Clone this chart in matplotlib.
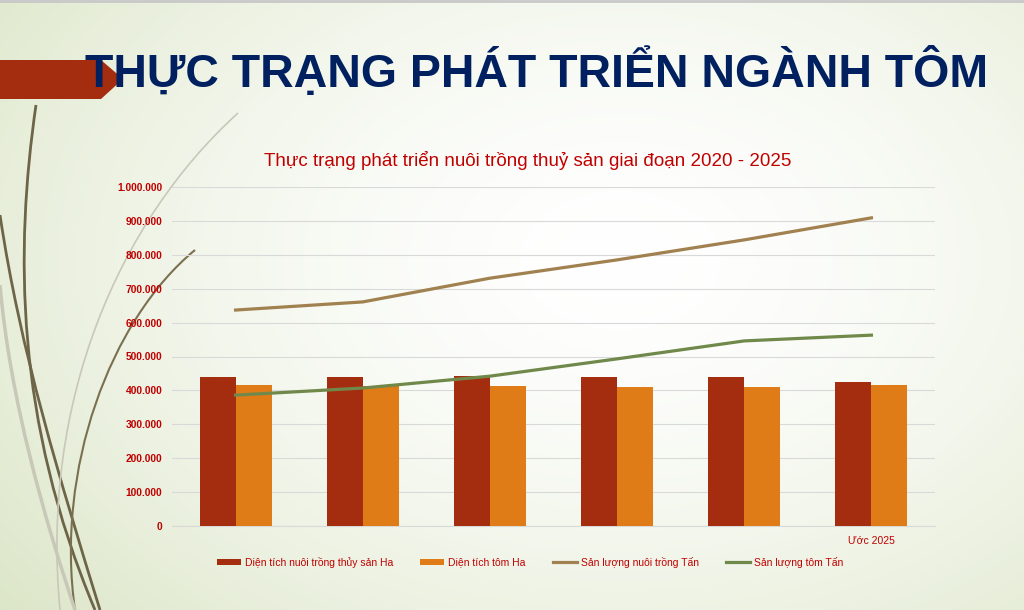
import numpy as np
import matplotlib
matplotlib.use('Agg')
import matplotlib.pyplot as plt
from matplotlib.path import Path
from matplotlib.patches import PathPatch, Polygon

plt.rcParams['font.family'] = ['Liberation Sans', 'DejaVu Sans']

# data
categories = ['2020', '2021', '2022', '2023', '2024', 'Ước 2025']
tick_labels = ['', '', '', '', '', 'Ước 2025']
dien_tich_nuoi = [439000, 439000, 442000, 439000, 439000, 424000]
dien_tich_tom = [415000, 413000, 412000, 409000, 409000, 415000]
san_luong_nuoi = [637000, 661000, 731000, 785000, 844000, 909000]
san_luong_tom = [386000, 407000, 442000, 493000, 546000, 563000]

W, H = 1024, 610
fig = plt.figure(figsize=(W / 100, H / 100), dpi=100)

# slide background
bg = fig.add_axes([0, 0, 1, 1])
bg.set_xlim(0, W)
bg.set_ylim(H, 0)
bg.axis('off')
yy, xx = np.mgrid[0:H, 0:W]
d = np.sqrt(((xx - 620) / 620.0) ** 2 + ((yy - 260) / 430.0) ** 2)
d = np.clip(d, 0, 1.3) / 1.3
white = np.array([1.0, 1.0, 1.0])
green = np.array([0.86, 0.90, 0.78])
img = white + (green - white) * (d[..., None] ** 1.6)
bg.imshow(img, extent=[0, W, H, 0], aspect='auto', zorder=0)
bg.plot([0, W], [1, 1], color='#C8C8C8', lw=2, zorder=1)

# decorative curves on the left
curves = [
    ([(36, 105), (15, 250), (15, 420), (95, 610)], '#6E6548', 2.0),
    ([(0, 215), (20, 350), (60, 480), (100, 610)], '#6E6548', 2.0),
    ([(195, 250), (110, 320), (55, 470), (75, 610)], '#7A7050', 1.5),
    ([(238, 113), (120, 220), (40, 400), (60, 610)], '#C8C8B8', 1.2),
    ([(0, 285), (10, 400), (45, 520), (75, 610)], '#C8C8B8', 2.5),
]
for pts, col, lw in curves:
    p = Path(pts, [Path.MOVETO, Path.CURVE4, Path.CURVE4, Path.CURVE4])
    bg.add_patch(PathPatch(p, fill=False, edgecolor=col, lw=lw, zorder=2))

# red arrow shape
bg.add_patch(Polygon([(0, 60), (101, 60), (123, 79), (101, 99), (0, 99)],
                     closed=True, facecolor='#A52D0F', edgecolor='none', zorder=3))

bg.text(85, 87, 'THỰC TRẠNG PHÁT TRIỂN NGÀNH TÔM', fontsize=33.5, fontweight='bold',
        color='#002060', ha='left', va='baseline', zorder=4)

bg.text(528, 160, 'Thực trạng phát triển nuôi trồng thuỷ sản giai đoạn 2020 - 2025',
        fontsize=13.5, color='#C00000', ha='center', va='center', zorder=4)

# chart
ax = fig.add_axes([172 / W, (H - 526) / H, 763 / W, 339 / H])
ax.patch.set_alpha(0)
x = np.arange(len(categories))
w = 0.283
b1 = ax.bar(x - w / 2, dien_tich_nuoi, w, color='#A52D0F', label='Diện tích nuôi trồng thủy sản Ha', zorder=3)
b2 = ax.bar(x + w / 2, dien_tich_tom, w, color='#DF7C18', label='Diện tích tôm Ha', zorder=3)
l1, = ax.plot(x, san_luong_nuoi, color='#A0814F', lw=2.3, label='Sản lượng nuôi trồng Tấn', zorder=4)
l2, = ax.plot(x, san_luong_tom, color='#70894B', lw=2.3, label='Sản lượng tôm Tấn', zorder=4)

ax.set_xlim(-0.5, len(categories) - 0.5)
ax.set_ylim(0, 1000000)
yt = np.arange(0, 1000001, 100000)
ax.set_yticks(yt)
ax.set_yticklabels([f'{v:,.0f}'.replace(',', '.') for v in yt], fontsize=7.4,
                   fontweight='bold', color='#C00000')
ax.set_xticks(x)
ax.set_xticklabels(tick_labels, fontsize=7.5, color='#C00000')
ax.tick_params(length=0)
ax.tick_params(axis='y', pad=7)
ax.tick_params(axis='x', pad=7)
ax.grid(axis='y', color='#D9D9D9', lw=0.8, zorder=0)
for s in ['top', 'right', 'left']:
    ax.spines[s].set_visible(False)
ax.spines['bottom'].set_color('#D9D9D9')

handles = [b1, b2, l1, l2]
leg = fig.legend(handles, [h.get_label() for h in handles], loc='center',
                 bbox_to_anchor=(530 / W, 1 - 562 / H), ncol=4, frameon=False,
                 fontsize=7.5, handlelength=2.3, handleheight=0.6, columnspacing=2.6,
                 handletextpad=0.4)
for t in leg.get_texts():
    t.set_color('#C00000')

fig.savefig('out.png', dpi=100)
